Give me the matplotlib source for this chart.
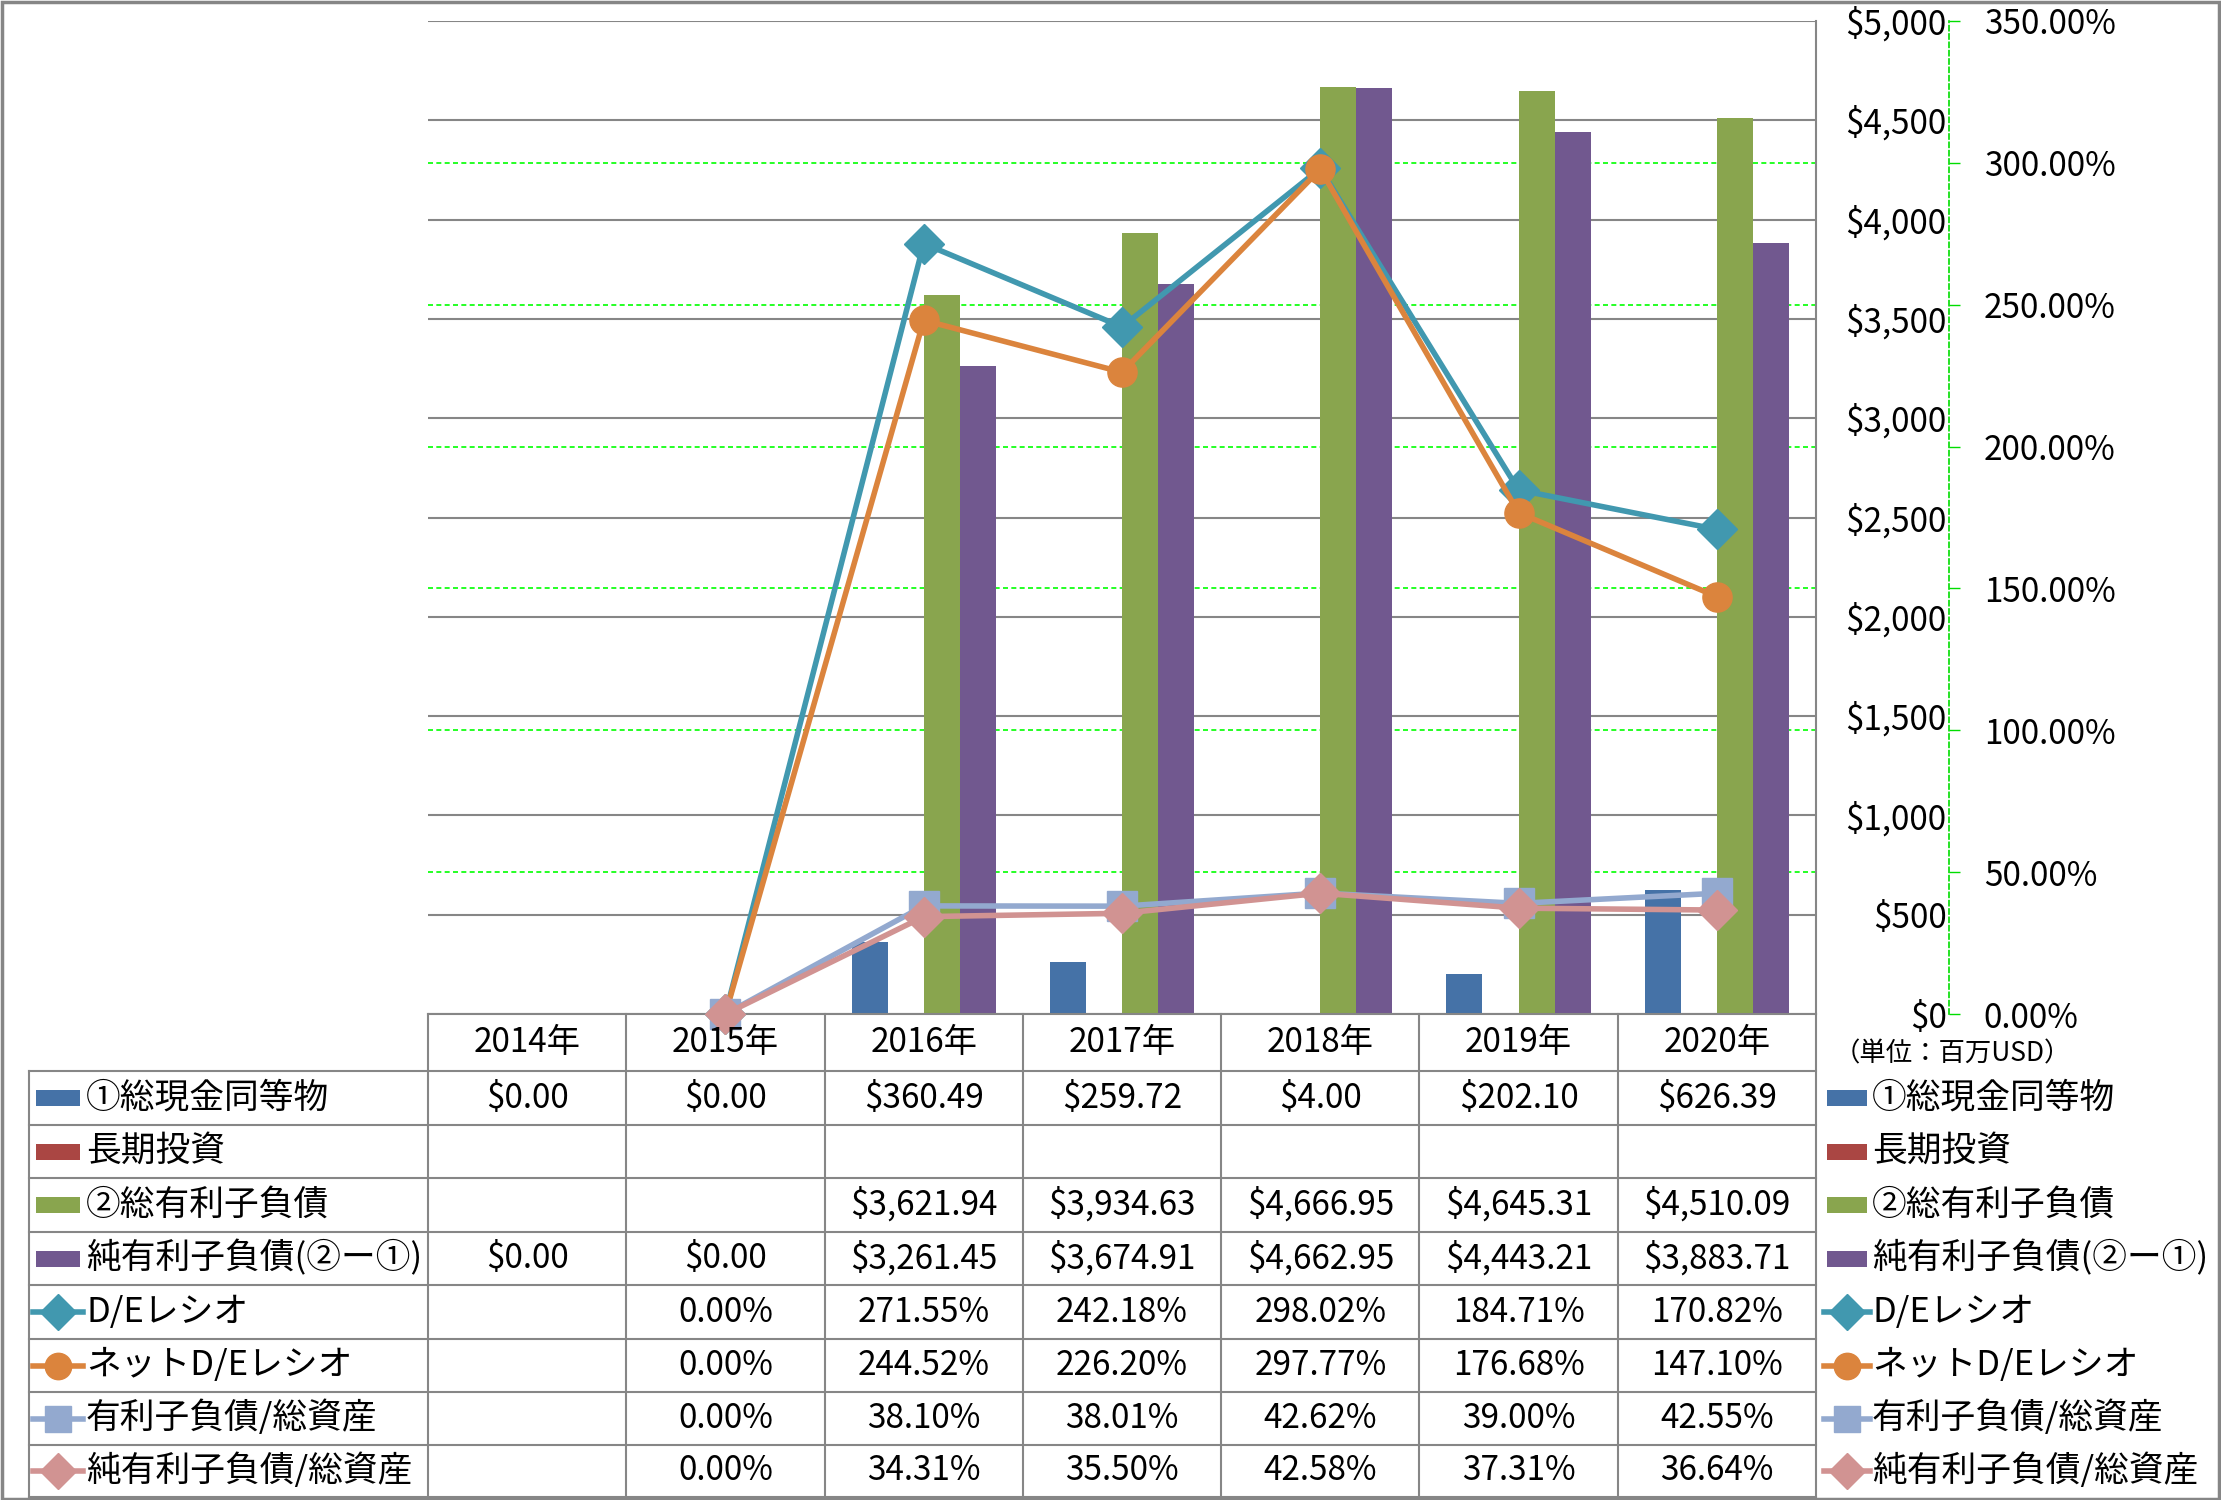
import matplotlib
matplotlib.use('Agg')
import matplotlib.pyplot as plt
import matplotlib.transforms as mtransforms
from matplotlib.lines import Line2D
from matplotlib.patches import Rectangle
import numpy as np

plt.rcParams['font.family'] = ['Noto Sans CJK JP', 'DejaVu Sans']

# data (単位: 百万USD / %)
years = ['2014年', '2015年', '2016年', '2017年', '2018年', '2019年', '2020年']
cash = [0.00, 0.00, 360.49, 259.72, 4.00, 202.10, 626.39]
long_inv = [None, None, None, None, None, None, None]
total_debt = [None, None, 3621.94, 3934.63, 4666.95, 4645.31, 4510.09]
net_debt = [0.00, 0.00, 3261.45, 3674.91, 4662.95, 4443.21, 3883.71]
de_ratio = [None, 0.00, 271.55, 242.18, 298.02, 184.71, 170.82]
net_de_ratio = [None, 0.00, 244.52, 226.20, 297.77, 176.68, 147.10]
debt_assets = [None, 0.00, 38.10, 38.01, 42.62, 39.00, 42.55]
net_debt_assets = [None, 0.00, 34.31, 35.50, 42.58, 37.31, 36.64]

bar_names = ['①総現金同等物', '長期投資', '②総有利子負債', '純有利子負債(②ー①)']
line_names = ['D/Eレシオ', 'ネットD/Eレシオ', '有利子負債/総資産', '純有利子負債/総資産']
bar_colors = ['#4572A7', '#AA4643', '#89A54E', '#71588F']
line_colors = ['#4198AF', '#DB843D', '#93A9CF', '#D19392']
line_markers = ['D', 'o', 's', 'D']
marker_sizes = [20, 21, 21, 20]

bar_series = [cash, long_inv, total_debt, net_debt]
line_series = [de_ratio, net_de_ratio, debt_assets, net_debt_assets]

W, H = 2221, 1500
fig = plt.figure(figsize=(W / 100, H / 100), dpi=100)
fig.patch.set_facecolor('white')


def fx(p):
    return p / W


def fy(p):
    return 1 - p / H


L, R, T, B = 428, 1816, 21, 1014
GRAY = '#868686'
FS = 24
FS_JP = 25

# secondary axis (grid + ticks), drawn below the bars
axg = fig.add_axes([fx(L), fy(B), fx(R - L), (B - T) / H])
ax = fig.add_axes([fx(L), fy(B), fx(R - L), (B - T) / H], sharex=axg)
axl = fig.add_axes([fx(L), fy(B), fx(R - L), (B - T) / H], sharex=axg)
axg.set_zorder(0)
ax.set_zorder(1)
axl.set_zorder(2)
ax.patch.set_visible(False)
axl.patch.set_visible(False)

x = np.arange(len(years))
axg.set_xlim(-0.5, len(years) - 0.5)

# bars
w = 0.182
offsets = [-2 * w, -w, 0, w]
for vals, off, col, name in zip(bar_series, offsets, bar_colors, bar_names):
    v = np.array(vals, dtype=float)
    ax.bar(x + off, v, width=w, align='edge', color=col, label=name, zorder=2)

ax.set_ylim(0, 5000)
ax.set_yticks(np.arange(0, 5001, 500))
ax.set_yticklabels(['${:,.0f}'.format(t) for t in np.arange(0, 5001, 500)])
ax.yaxis.tick_right()
ax.tick_params(axis='y', length=0, pad=94, labelsize=FS)
for lab in ax.get_yticklabels():
    lab.set_horizontalalignment('right')
ax.set_xticks([])
ax.grid(axis='y', color=GRAY, linewidth=1.5)
ax.set_axisbelow(True)
for s in ['left', 'top']:
    ax.spines[s].set_visible(False)
ax.spines['right'].set_color(GRAY)
ax.spines['bottom'].set_color(GRAY)
ax.spines['right'].set_linewidth(1.5)
ax.spines['bottom'].set_linewidth(1.5)

# secondary axis styling
axg.set_ylim(0, 350)
axg.set_yticks(np.arange(0, 351, 50))
axg.set_yticklabels(['{:.2f}%'.format(t) for t in np.arange(0, 351, 50)])
axg.yaxis.tick_right()
axg.tick_params(axis='y', direction='out', length=8, width=1, color='#00DD00',
                pad=17, labelsize=FS)
axg.set_xticks([])
axg.grid(axis='y', color='#00FF00', linestyle=(0, (3, 2)), linewidth=1.2)
for s in ['left', 'top', 'bottom']:
    axg.spines[s].set_visible(False)
axg.spines['right'].set_position(('axes', (1949 - L) / (R - L)))
axg.spines['right'].set_color('#00DD00')
axg.spines['right'].set_linestyle((0, (3, 2)))
axg.spines['right'].set_linewidth(1.2)

# lines
axl.set_ylim(0, 350)
axl.axis('off')
for vals, col, mk, ms, name in zip(line_series, line_colors, line_markers, marker_sizes, line_names):
    v = np.array(vals, dtype=float)
    axl.plot(x, v, color=col, marker=mk, markersize=ms, linewidth=4,
             label=name, clip_on=False, zorder=3)

# data table
rows = [1014, 1071, 1125, 1178, 1232, 1285, 1339, 1392, 1445, 1497]
TL = 29
for r in rows[1:]:
    fig.add_artist(Line2D([fx(TL), fx(R)], [fy(r), fy(r)], color=GRAY, lw=1.5))
fig.add_artist(Line2D([fx(TL), fx(TL)], [fy(rows[1]), fy(rows[-1])], color=GRAY, lw=1.5))
btr = mtransforms.blended_transform_factory(ax.transData, fig.transFigure)
for i in range(len(years) + 1):
    xb = i - 0.5
    fig.add_artist(Line2D([xb, xb], [fy(rows[0]), fy(rows[-1])], color=GRAY,
                          lw=1.5, transform=btr))

ymid = [(rows[i] + rows[i + 1]) / 2 for i in range(len(rows) - 1)]
for i, yr in enumerate(years):
    fig.text(i, fy(ymid[0]), yr, transform=btr, ha='center', va='center', fontsize=FS)


def money(v):
    return '' if v is None else '${:,.2f}'.format(v)


def pct(v):
    return '' if v is None else '{:.2f}%'.format(v)


table_rows = [[money(v) for v in s] for s in bar_series] + \
             [[pct(v) for v in s] for s in line_series]
for r, cells in enumerate(table_rows):
    for i, txt in enumerate(cells):
        if txt:
            fig.text(i, fy(ymid[r + 1]), txt, transform=btr, ha='center',
                     va='center', fontsize=FS)


def legend_key(xl, xr, yc, idx):
    if idx < 4:
        fig.add_artist(Rectangle((fx(xl), fy(yc + 8)), fx(xr - xl), 16 / H,
                                 color=bar_colors[idx], lw=0))
    else:
        j = idx - 4
        fig.add_artist(Line2D([fx(xl - 3), fx(xr + 3)], [fy(yc), fy(yc)],
                              color=line_colors[j], lw=4))
        fig.add_artist(Line2D([fx((xl + xr) / 2)], [fy(yc)], color=line_colors[j],
                              marker=line_markers[j], markersize=marker_sizes[j] - 2, lw=0))


all_names = bar_names + line_names
for k, name in enumerate(all_names):
    yc = ymid[k + 1]
    legend_key(36, 80, yc, k)
    fig.text(fx(86), fy(yc), name, ha='left', va='center', fontsize=FS_JP)
    legend_key(1827, 1867, yc, k)
    fig.text(fx(1872), fy(yc), name, ha='left', va='center', fontsize=FS_JP)

fig.text(fx(1834), fy(1054), '（単位：百万USD）', ha='left', va='center', fontsize=19)

# outer frame
fig.add_artist(Rectangle((0.0008, 0.001), 0.9984, 0.998, transform=fig.transFigure,
                         fill=False, edgecolor=GRAY, lw=2.5))

fig.savefig('out.png', dpi=100, facecolor='white')
